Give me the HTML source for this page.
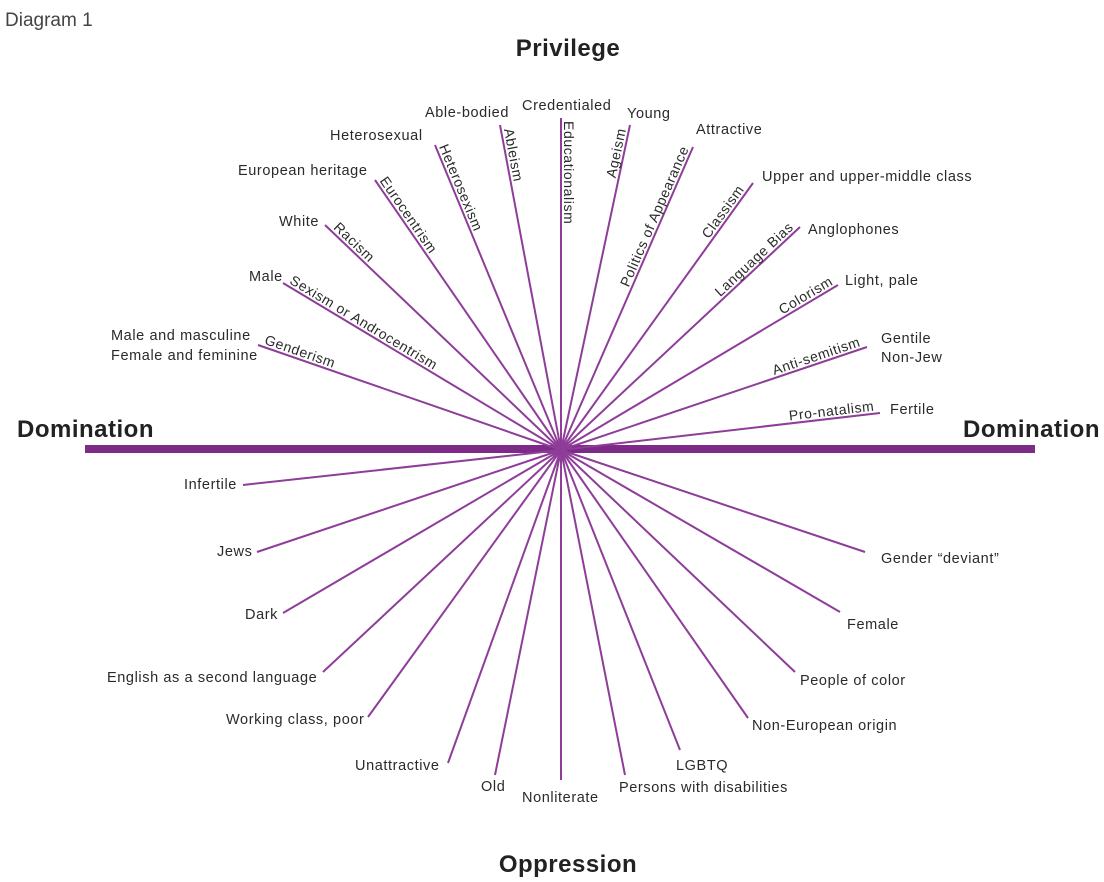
<!DOCTYPE html>
<html><head><meta charset="utf-8"><style>
html,body{margin:0;padding:0;background:#fff;}
svg{display:block;}
text{font-family:"Liberation Sans",sans-serif;fill:#2a2a2a;}
.l{font-size:14.5px;letter-spacing:0.6px;}
.r{font-size:14px;letter-spacing:0.6px;}
.t{font-size:24px;font-weight:bold;letter-spacing:0.5px;fill:#222;}
</style></head><body>
<svg id="s" width="1104" height="882" viewBox="0 0 1104 882" xmlns="http://www.w3.org/2000/svg">
<text x="5" y="26" style="font-size:19px;fill:#444">Diagram 1</text>
<text class="t" x="568" y="56" text-anchor="middle">Privilege</text>
<text class="t" x="17" y="437">Domination</text>
<text class="t" x="1100" y="437" text-anchor="end">Domination</text>
<text class="t" x="568" y="872" text-anchor="middle">Oppression</text>
<line x1="85" y1="449" x2="1035" y2="449" stroke="#7d2a88" stroke-width="8"/>
<g id="lines" stroke="#8e3d99" stroke-width="2"></g>
<g id="labels"></g>
</svg>
<script>
var C=[561,450];
var ends=[[561,118],[500,125],[435,145],[375,180],[325,225],[283,283],[258,345],
[630,125],[693,147],[753,183],[800,227],[838,285],[867,347],[880,413],
[243,485],[257,552],[283,613],[323,672],[368,717],[448,763],[495,775],[561,780],[625,775],[680,750],[748,718],[795,672],[840,612],[865,552]];
var ns="http://www.w3.org/2000/svg";
var g=document.getElementById('lines');
ends.forEach(function(e){var l=document.createElementNS(ns,'line');l.setAttribute('x1',C[0]);l.setAttribute('y1',C[1]);l.setAttribute('x2',e[0]);l.setAttribute('y2',e[1]);g.appendChild(l);});
var lg=document.getElementById('labels');
function T(txt,x,y,cls,anchor,tr){var t=document.createElementNS(ns,'text');t.textContent=txt;t.setAttribute('class',cls);if(tr){t.setAttribute('transform',tr);}else{t.setAttribute('x',x);t.setAttribute('y',y);}if(anchor)t.setAttribute('text-anchor',anchor);lg.appendChild(t);}
// rotated left (read toward center)
var left=[["Educationalism",561,118,3],["Ableism",500,125,5],["Heterosexism",435,145,3],["Eurocentrism",375,180,3],["Racism",325,225,8],["Sexism or Androcentrism",283,283,5],["Genderism",258,345,5]];
left.forEach(function(a){var dx=C[0]-a[1],dy=C[1]-a[2],L=Math.hypot(dx,dy),ux=dx/L,uy=dy/L;var ang=Math.atan2(dy,dx)*180/Math.PI;var r=ang*Math.PI/180;var upx=Math.sin(r),upy=-Math.cos(r);var x=a[1]+ux*a[3]+upx*3,y=a[2]+uy*a[3]+upy*3;T(a[0],0,0,'r',null,'translate('+x.toFixed(1)+','+y.toFixed(1)+') rotate('+ang.toFixed(1)+')');});
var right=[["Ageism",630,125,5],["Politics of Appearance",693,147,3],["Classism",753,183,10],["Language Bias",800,227,5],["Colorism",838,285,3],["Anti-semitism",867,347,5],["Pro-natalism",880,413,5]];
right.forEach(function(a){var dx=a[1]-C[0],dy=a[2]-C[1],L=Math.hypot(dx,dy),ux=dx/L,uy=dy/L;var ang=Math.atan2(dy,dx)*180/Math.PI;var r=ang*Math.PI/180;var upx=Math.sin(r),upy=-Math.cos(r);var x=a[1]-ux*a[3]+upx*3,y=a[2]-uy*a[3]+upy*3;T(a[0],0,0,'r','end','translate('+x.toFixed(1)+','+y.toFixed(1)+') rotate('+ang.toFixed(1)+')');});
var H=[["Able-bodied",425,117],["Credentialed",522,110],["Young",627,118],["Heterosexual",330,140],["Attractive",696,134],["European heritage",238,175],["Upper and upper-middle class",762,181],["White",279,226],["Anglophones",808,234],["Male",249,281],["Light, pale",845,285],["Male and masculine",111,340],["Female and feminine",111,360],["Gentile",881,343],["Non-Jew",881,362],["Fertile",890,414],["Infertile",184,489],["Jews",217,556],["Dark",245,619],["English as a second language",107,682],["Working class, poor",226,724],["Unattractive",355,770],["Old",481,791],["Nonliterate",522,802],["Persons with disabilities",619,792],["LGBTQ",676,770],["Non-European origin",752,730],["People of color",800,685],["Female",847,629],["Gender \u201cdeviant\u201d",881,563]];
H.forEach(function(h){T(h[0],h[1],h[2],'l');});
</script>
</body></html>
